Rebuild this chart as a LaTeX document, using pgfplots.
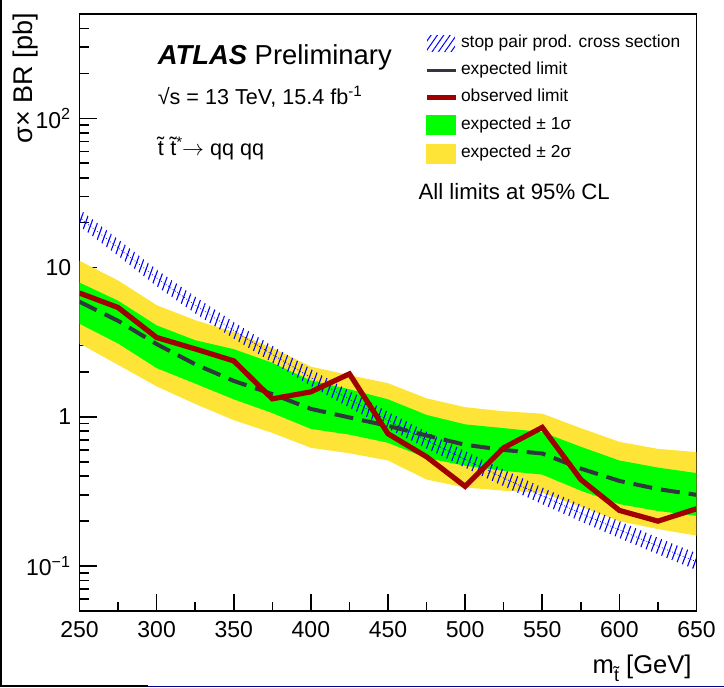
\documentclass[border=0pt]{standalone}
\usepackage{fontspec}
\setmainfont{Liberation Sans}
\usepackage{pgfplots}
\pgfplotsset{compat=1.18}
\usetikzlibrary{patterns.meta}

\definecolor{byellow}{RGB}{254,228,54}
\definecolor{bgreen}{RGB}{0,255,0}
\definecolor{obsred}{RGB}{160,0,0}
\definecolor{expgray}{RGB}{50,55,62}

\begin{document}
\begin{tikzpicture}
\useasboundingbox (0,0) rectangle (362pt,343.5pt);
\fill[black] (0,0) rectangle (1.2pt,343.5pt);
\fill[black] (0,0) rectangle (74pt,1pt);
\fill[blue!55!black] (74pt,0) rectangle (362pt,0.6pt);
\begin{axis}[
  name=ax,
  at={(39.75pt,38pt)}, anchor=south west,
  width=308.5pt, height=298.5pt, scale only axis,
  xmin=250, xmax=650, ymin=0.05, ymax=500, ymode=log,
  xtick={250,300,...,650}, minor x tick num=1,
  ytick={0.1,1,10,100},
  yticklabels={10\textsuperscript{−1},1,10,10\textsuperscript{2}},
  minor ytick={0.05,0.06,0.07,0.08,0.09,0.2,0.3,0.4,0.5,0.6,0.7,0.8,0.9,2,3,4,5,6,7,8,9,20,30,40,50,60,70,80,90,200,300,400},
  tick pos=left, tick align=inside,
  major tick length=8.5pt, minor tick length=4.5pt,
  every tick/.style={black, line width=0.8pt},
  axis line style={line width=0.8pt},
  tick label style={font=\fontsize{11.5}{13}\selectfont},
  /pgf/number format/assume math mode=true,
  /pgf/number format/1000 sep={},
  xticklabel style={inner sep=0pt, yshift=-5pt},
  yticklabel style={inner sep=0pt, xshift=-4pt},
  legend cell align=left,
  legend style={at={(rel axis cs:0.5587,0.967)}, anchor=north west,
    draw=none, fill=none, inner sep=0pt, row sep=4.4pt,
    font=\fontsize{8.7}{10}\selectfont,
    nodes={inner sep=0pt, text height=6.5pt, text depth=2.5pt},
    /tikz/every odd column/.append style={column sep=1.5pt}},
]
% legend entries
\addlegendimage{legend image code/.code={\fill[blue!3, pattern={Lines[angle=55,distance=2.6pt,line width=0.5pt]}, pattern color=blue] (0pt,-4.5pt) rectangle (14.5pt,4.5pt);}}
\addlegendentry{stop pair prod. cross section}
\addlegendimage{legend image code/.code={\draw[expgray, line width=1.6pt] (0pt,0pt) -- (14.5pt,0pt);}}
\addlegendentry{expected limit}
\addlegendimage{legend image code/.code={\draw[obsred, line width=2.2pt] (0pt,0pt) -- (14.5pt,0pt);}}
\addlegendentry{observed limit}
\addlegendimage{legend image code/.code={\fill[bgreen] (0pt,-4.7pt) rectangle (14.5pt,4.7pt);}}
\addlegendentry{expected ± 1σ}
\addlegendimage{legend image code/.code={\fill[byellow] (0pt,-4.7pt) rectangle (14.5pt,4.7pt);}}
\addlegendentry{expected ± 2σ}

% expected +-2 sigma band (upper edge, then lower edge backwards)
\addplot[fill=byellow, draw=none, forget plot] coordinates {
(250,11.1) (275,8.2) (300,5.6) (325,4.44) (350,3.7) (375,2.9) (400,2.17) (425,1.9) (450,1.68)
(475,1.33) (500,1.16) (525,1.09) (550,1.05) (575,0.84) (600,0.68) (625,0.61) (650,0.58)
(650,0.16) (625,0.177) (600,0.20) (575,0.25) (550,0.31) (525,0.32) (500,0.336) (475,0.38)
(450,0.51) (425,0.57) (400,0.62) (375,0.78) (350,0.95) (325,1.22) (300,1.6) (275,2.23) (250,3.1)
};
% expected +-1 sigma band
\addplot[fill=bgreen, draw=none, forget plot] coordinates {
(250,7.93) (275,6.0) (300,4.1) (325,3.26) (350,2.84) (375,2.3) (400,1.75) (425,1.53) (450,1.31)
(475,1.03) (500,0.89) (525,0.84) (550,0.79) (575,0.63) (600,0.51) (625,0.457) (650,0.42)
(650,0.217) (625,0.234) (600,0.26) (575,0.32) (550,0.41) (525,0.435) (500,0.47) (475,0.53)
(450,0.67) (425,0.76) (400,0.83) (375,1.06) (350,1.31) (325,1.67) (300,2.12) (275,3.1) (250,4.2)
};
% stop pair production cross section band
\addplot[draw=none, pattern={Lines[angle=70,distance=2.8pt,line width=0.55pt]}, pattern color=blue, forget plot] coordinates {
(250,24.6) (275,15.5) (300,9.71) (325,6.38) (350,4.32) (375,2.99) (400,2.09) (425,1.49) (450,1.08)
(475,0.795) (500,0.590) (525,0.443) (550,0.337) (575,0.258) (600,0.200) (625,0.155) (650,0.122)
(650,0.094) (625,0.120) (600,0.154) (575,0.199) (550,0.260) (525,0.342) (500,0.456) (475,0.613)
(450,0.834) (425,1.15) (400,1.61) (375,2.31) (350,3.34) (325,4.93) (300,7.50) (275,12.0) (250,19.0)
};
\addplot[blue, line width=0.4pt, densely dotted, forget plot] coordinates {
(250,21.6) (275,13.6) (300,8.52) (325,5.60) (350,3.79) (375,2.62) (400,1.83) (425,1.31) (450,0.948)
(475,0.697) (500,0.518) (525,0.389) (550,0.296) (575,0.226) (600,0.175) (625,0.136) (650,0.107)
};
% expected limit
\addplot[expgray, line width=2pt, dash pattern=on 9.5pt off 4.5pt, forget plot] coordinates {
(250,5.9) (275,4.4) (300,3.07) (325,2.25) (350,1.74) (375,1.42) (400,1.13) (425,0.99) (450,0.87)
(475,0.75) (500,0.65) (525,0.60) (550,0.568) (575,0.45) (600,0.372) (625,0.328) (650,0.30)
};
% observed limit
\addplot[obsred, line width=2.6pt, line join=miter, miter limit=3, forget plot] coordinates {
(250,6.75) (275,5.4) (300,3.4) (325,2.85) (350,2.37) (375,1.32) (400,1.47) (425,1.94) (450,0.77)
(475,0.54) (500,0.342) (525,0.62) (550,0.85) (575,0.38) (600,0.236) (625,0.20) (650,0.242)
};

% texts
\node[anchor=west, inner sep=0pt, font=\fontsize{13.7}{16}\selectfont] at (rel axis cs:0.1263,0.928) {\textbf{\textit{ATLAS}} Preliminary};
\node[anchor=west, inner sep=0pt, font=\fontsize{10.8}{13}\selectfont] at (rel axis cs:0.1263,0.861) {√s = 13 TeV, 15.4 fb\textsuperscript{-1}};
\node[anchor=west, inner sep=0pt, font=\fontsize{10.8}{13}\selectfont] at (rel axis cs:0.1263,0.7755) {\~{t}\hspace{0.3em}\~{t}\textsuperscript{*}\hspace{-0.05em}$\rightarrow$ qq qq};
\node[anchor=west, inner sep=0pt, font=\fontsize{11.1}{13}\selectfont] at (rel axis cs:0.549,0.7018) {All limits at 95\% CL};
\end{axis}
\node[rotate=90, anchor=base east, inner sep=0pt, font=\fontsize{13.5}{15}\selectfont] at ([xshift=-23.5pt, yshift=0.5pt]ax.north west) {σ× BR [pb]};
\node[anchor=base east, inner sep=0pt, font=\fontsize{12.8}{15}\selectfont] at ([xshift=-2.25pt, yshift=-31pt]ax.south east) {m\raisebox{-0.35em}{\fontsize{9}{10}\selectfont\~{t}} [GeV]};
\end{tikzpicture}
\end{document}
